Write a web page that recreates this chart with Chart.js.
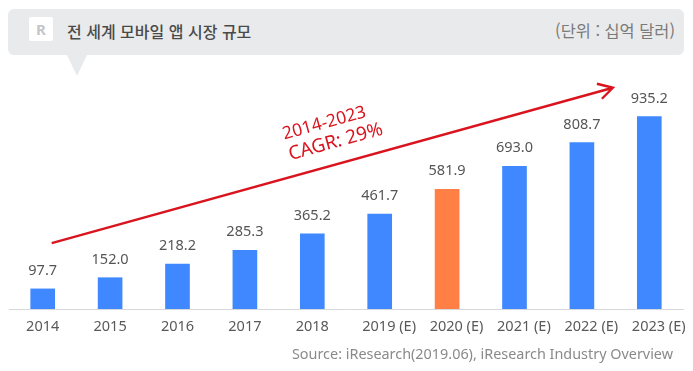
<!DOCTYPE html>
<html lang="ko">
<head>
<meta charset="utf-8">
<script src="https://cdn.jsdelivr.net/npm/chart.js@4/dist/chart.umd.min.js"></script>
<style>
  html, body { margin: 0; background: #fff; }
  #wrap { position: relative; width: 693px; height: 371px; overflow: hidden; font-family: "Noto Sans CJK KR", sans-serif; }
  #chart { position: absolute; left: 0; top: 0; }
  #head { position: absolute; left: 8px; top: 9px; width: 676px; height: 46px; background: #e9eaec; border-radius: 6px; }
  #tail { position: absolute; left: 67px; top: 55px; width: 0; height: 0; border-left: 10px solid transparent; border-right: 10px solid transparent; border-top: 21px solid #e9eaec; }
  #logo { position: absolute; left: 29px; top: 17px; width: 24px; height: 24px; background: #fff; border-radius: 2px; color: #c4c6c8; font: bold 15px/24px "Noto Sans", sans-serif; text-align: center; }
  #title { position: absolute; left: 67px; top: 20px; font-size: 16px; line-height: 22px; font-weight: 500; color: #4a4a4a; }
  #unit { position: absolute; right: 18px; top: 19px; font-size: 16.4px; line-height: 22px; color: #7a7a7a; }
  #source { position: absolute; right: 20px; top: 345px; font: 14.4px/18px "Noto Sans", sans-serif; color: #8a8a8a; }
</style>
</head>
<body>
<div id="wrap">
  <div id="head"></div>
  <div id="tail"></div>
  <div id="logo">R</div>
  <div id="title">전 세계 모바일 앱 시장 규모</div>
  <div id="unit">(단위 : 십억 달러)</div>
  <canvas id="chart" width="693" height="371"></canvas>
  <div id="source">Source: iResearch(2019.06), iResearch Industry Overview</div>
</div>
<script>
const categories = ['2014', '2015', '2016', '2017', '2018', '2019 (E)', '2020 (E)', '2021 (E)', '2022 (E)', '2023 (E)']
const marketSize = [97.7, 152.0, 218.2, 285.3, 365.2, 461.7, 581.9, 693.0, 808.7, 935.2]
const valueLabels = ['97.7', '152.0', '218.2', '285.3', '365.2', '461.7', '581.9', '693.0', '808.7', '935.2']
const barColors = ['#3f88ff', '#3f88ff', '#3f88ff', '#3f88ff', '#3f88ff', '#3f88ff', '#ff7f45', '#3f88ff', '#3f88ff', '#3f88ff']
const cagrLines = ['2014-2023', 'CAGR: 29%']

const RED = '#d9141e'
const FONT = '"Noto Sans", "Noto Sans CJK KR", sans-serif'

// numbers above the bars
const valueLabelPlugin = {
  id: 'valueLabels',
  afterDatasetsDraw(chart) {
    const { ctx } = chart
    const bars = chart.getDatasetMeta(0).data
    ctx.save()
    ctx.font = '14.5px ' + FONT
    ctx.fillStyle = '#555'
    ctx.textAlign = 'center'
    ctx.textBaseline = 'middle'
    bars.forEach((bar, i) => ctx.fillText(valueLabels[i], bar.x, bar.y - 18))
    ctx.restore()
  },
}

// red growth arrow and its caption
const arrowPlugin = {
  id: 'cagrArrow',
  afterDraw(chart) {
    const { ctx, scales: { x, y } } = chart
    const x0 = x.getPixelForValue(0) + 9
    const y0 = y.getPixelForValue(320)
    const x1 = x.getPixelForValue(8) + 31
    const y1 = y.getPixelForValue(1075)
    ctx.save()
    ctx.strokeStyle = RED
    ctx.lineWidth = 2.4
    ctx.lineJoin = 'miter'
    ctx.beginPath()
    ctx.moveTo(x0, y0)
    ctx.lineTo(x1, y1)
    ctx.moveTo(x1 - 16, y1 - 4)
    ctx.lineTo(x1, y1)
    ctx.lineTo(x1 - 11, y1 + 11)
    ctx.stroke()

    const angle = Math.atan2(y1 - y0, x1 - x0)
    ctx.fillStyle = RED
    ctx.textAlign = 'center'
    ctx.textBaseline = 'middle'
    ctx.translate(x.getPixelForValue(4) + 12, y.getPixelForValue(902))
    ctx.rotate(angle)
    ctx.font = '17.5px ' + FONT
    ctx.fillText(cagrLines[0], 0, 0)
    ctx.font = '19px ' + FONT
    ctx.fillText(cagrLines[1], 6, 21)
    ctx.restore()
  },
}

new Chart(document.getElementById('chart'), {
  type: 'bar',
  data: {
    labels: categories,
    datasets: [
      {
        data: marketSize,
        backgroundColor: barColors,
        barThickness: 24,
      },
    ],
  },
  options: {
    responsive: false,
    animation: false,
    layout: { padding: { top: 62, left: 9, right: 10, bottom: 0 } },
    plugins: {
      legend: { display: false },
      tooltip: { enabled: false },
    },
    scales: {
      x: {
        afterFit(scale) { scale.height = 62 },
        grid: { display: false },
        border: { color: '#d6d8db', width: 1 },
        ticks: {
          color: '#595959',
          font: { family: FONT, size: 14.5 },
          padding: 1,
          maxRotation: 0,
          autoSkip: false,
          // the year sits under the bar, the (E) hangs off to the right
          callback(value) {
            const label = this.getLabelForValue(value)
            return label.includes('(E)') ? '\u00a0\u00a0\u00a0\u00a0\u00a0' + label : label
          },
        },
      },
      y: {
        display: false,
        min: 0,
        max: 1200,
      },
    },
  },
  plugins: [valueLabelPlugin, arrowPlugin],
})
</script>
</body>
</html>
